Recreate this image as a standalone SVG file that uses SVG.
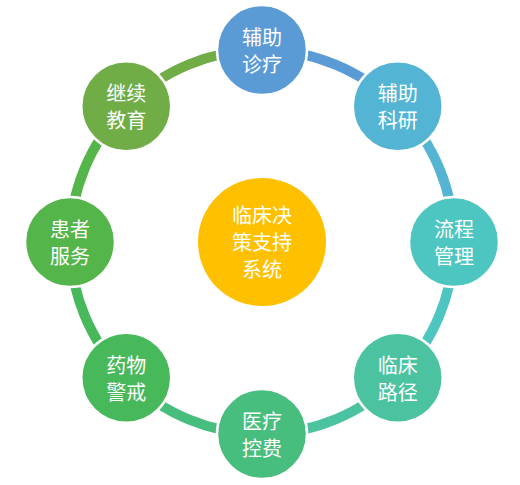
<svg xmlns="http://www.w3.org/2000/svg" width="520" height="485" viewBox="0 0 520 485">
<style>
.arc{fill:none;stroke-width:10}
.node{stroke:#ffffff;stroke-width:2.5}
.t{font-family:"Noto Sans CJK SC","Microsoft YaHei",sans-serif;font-size:20px;fill:#ffffff;text-anchor:middle;dominant-baseline:central}
</style>
<rect width="520" height="485" fill="#ffffff"/>
<g id="connectors">
<path class="arc" stroke="#5B9BD5" d="M262,50 A192,192 0 0 1 397.76,106.24"/>
<path class="arc" stroke="#53B4D3" d="M397.76,106.24 A192,192 0 0 1 454,242"/>
<path class="arc" stroke="#4DC6C1" d="M454,242 A192,192 0 0 1 397.76,377.76"/>
<path class="arc" stroke="#4BC3A0" d="M397.76,377.76 A192,192 0 0 1 262,434"/>
<path class="arc" stroke="#48BE7E" d="M262,434 A192,192 0 0 1 126.24,377.76"/>
<path class="arc" stroke="#47B95B" d="M126.24,377.76 A192,192 0 0 1 70,242"/>
<path class="arc" stroke="#53B54A" d="M70,242 A192,192 0 0 1 126.24,106.24"/>
<path class="arc" stroke="#70AD47" d="M126.24,106.24 A192,192 0 0 1 262,50"/>
</g>
<g id="center">
<circle cx="262" cy="242" r="64" fill="#FFC000"/>
<text class="t" x="262" y="214">临床决</text>
<text class="t" x="262" y="241">策支持</text>
<text class="t" x="262" y="268">系统</text>
</g>
<g id="n0">
<circle class="node" cx="262" cy="50" r="45" fill="#5B9BD5"/>
<text class="t" x="262" y="36">辅助</text>
<text class="t" x="262" y="63">诊疗</text>
</g>
<g id="n1">
<circle class="node" cx="397.76" cy="106.24" r="45" fill="#53B4D3"/>
<text class="t" x="397.76" y="92.5">辅助</text>
<text class="t" x="397.76" y="119.5">科研</text>
</g>
<g id="n2">
<circle class="node" cx="454" cy="242" r="45" fill="#4DC6C1"/>
<text class="t" x="454" y="228.5">流程</text>
<text class="t" x="454" y="255.5">管理</text>
</g>
<g id="n3">
<circle class="node" cx="397.76" cy="377.76" r="45" fill="#4BC3A0"/>
<text class="t" x="397.76" y="364">临床</text>
<text class="t" x="397.76" y="391">路径</text>
</g>
<g id="n4">
<circle class="node" cx="262" cy="434" r="45" fill="#48BE7E"/>
<text class="t" x="262" y="420.5">医疗</text>
<text class="t" x="262" y="447.5">控费</text>
</g>
<g id="n5">
<circle class="node" cx="126.24" cy="377.76" r="45" fill="#47B95B"/>
<text class="t" x="126.24" y="364">药物</text>
<text class="t" x="126.24" y="391">警戒</text>
</g>
<g id="n6">
<circle class="node" cx="70" cy="242" r="45" fill="#53B54A"/>
<text class="t" x="70" y="228.5">患者</text>
<text class="t" x="70" y="255.5">服务</text>
</g>
<g id="n7">
<circle class="node" cx="126.24" cy="106.24" r="45" fill="#70AD47"/>
<text class="t" x="126.24" y="92.5">继续</text>
<text class="t" x="126.24" y="119.5">教育</text>
</g>
</svg>
